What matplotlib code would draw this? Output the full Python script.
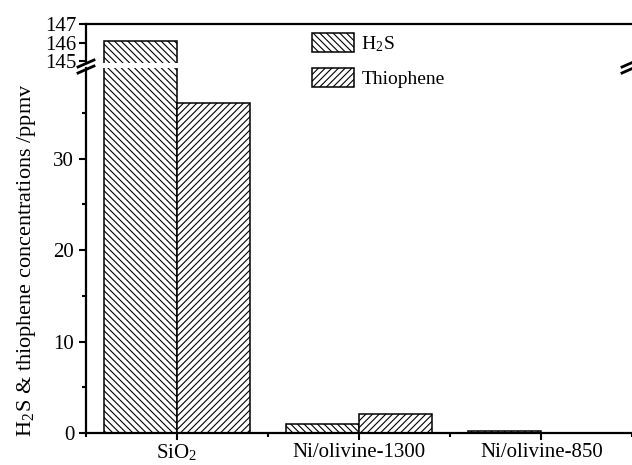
import matplotlib
matplotlib.use("Agg")
import matplotlib.pyplot as plt
from matplotlib.lines import Line2D
from matplotlib.patches import Patch
from matplotlib.ticker import MultipleLocator

plt.rcParams['font.family'] = ['Liberation Serif', 'DejaVu Serif']
plt.rcParams['mathtext.fontset'] = 'stix'
plt.rcParams['hatch.linewidth'] = 0.8

# datos
catalizadores = ['SiO$_\\mathregular{2}$', 'Ni/olivine-1300', 'Ni/olivine-850']
h2s = [146.1, 1.0, 0.2]
tiofeno = [36.1, 2.1, 0.0]
series = ['H$_\\mathregular{2}$S', 'Thiophene']

W, H = 632, 465
fig = plt.figure(figsize=(W / 100, H / 100), dpi=100)

izq = 86 / W
ancho = 550 / W
ax_bajo = fig.add_axes([izq, (H - 433) / H, ancho, (433 - 68) / H])
ax_alto = fig.add_axes([izq, (H - 63) / H, ancho, (63 - 24) / H])

rayado_h2s = '\\\\\\\\\\'
rayado_tio = '/////'

x = list(range(len(catalizadores)))
w = 0.4
for ax in (ax_bajo, ax_alto):
    ax.bar([i - w / 2 for i in x], h2s, width=w, color='white', edgecolor='black',
           linewidth=1.1, hatch=rayado_h2s)
    ax.bar([i + w / 2 for i in x], tiofeno, width=w, color='white', edgecolor='black',
           linewidth=1.1, hatch=rayado_tio)
    ax.set_xlim(-0.5, 2.52)
    ax.spines['right'].set_visible(False)
    for s in ax.spines.values():
        s.set_linewidth(1.6)
    ax.tick_params(axis='both', which='major', direction='out', length=5, width=1.5,
                   labelsize=15)
    ax.tick_params(axis='both', which='minor', direction='out', length=3, width=1.5)

ax_bajo.set_ylim(0, 39.9)
ax_bajo.yaxis.set_major_locator(MultipleLocator(10))
ax_bajo.yaxis.set_minor_locator(MultipleLocator(5))
ax_bajo.spines['top'].set_visible(False)
ax_bajo.set_xticks(x)
ax_bajo.set_xticklabels(catalizadores)
ax_bajo.xaxis.set_minor_locator(MultipleLocator(0.5))
ax_bajo.tick_params(axis='x', which='major', pad=2)

ax_alto.set_ylim(144.9, 147)
ax_alto.set_yticks([145, 146, 147])
ax_alto.spines['bottom'].set_visible(False)
ax_alto.tick_params(axis='x', which='both', bottom=False, labelbottom=False)
ax_alto.tick_params(axis='y', which='major', pad=2)
ax_alto.patch.set_alpha(0)

# marcas de corte del eje
for xc in (86, 630):
    for dy in (0, 6):
        y0 = H - (67 + dy)
        fig.add_artist(Line2D([(xc - 8) / W, (xc + 8) / W], [y0 / H, (y0 + 7) / H],
                              color='black', linewidth=2.0))

fig.text(27 / W, (H - 260) / H, 'H$_\\mathregular{2}$S & thiophene concentrations /ppmv',
         rotation=90, ha='center', va='center', fontsize=16)

handles = [Patch(facecolor='white', edgecolor='black', hatch=rayado_h2s, linewidth=1.1),
           Patch(facecolor='white', edgecolor='black', hatch=rayado_tio, linewidth=1.1)]
fig.legend(handles, series, loc='upper left', bbox_to_anchor=(298 / W, (H - 19) / H),
           frameon=False, fontsize=14, handlelength=2.2, handleheight=1.15,
           handletextpad=0.35, labelspacing=0.72, borderpad=0.2)

fig.savefig('out.png', dpi=100)
